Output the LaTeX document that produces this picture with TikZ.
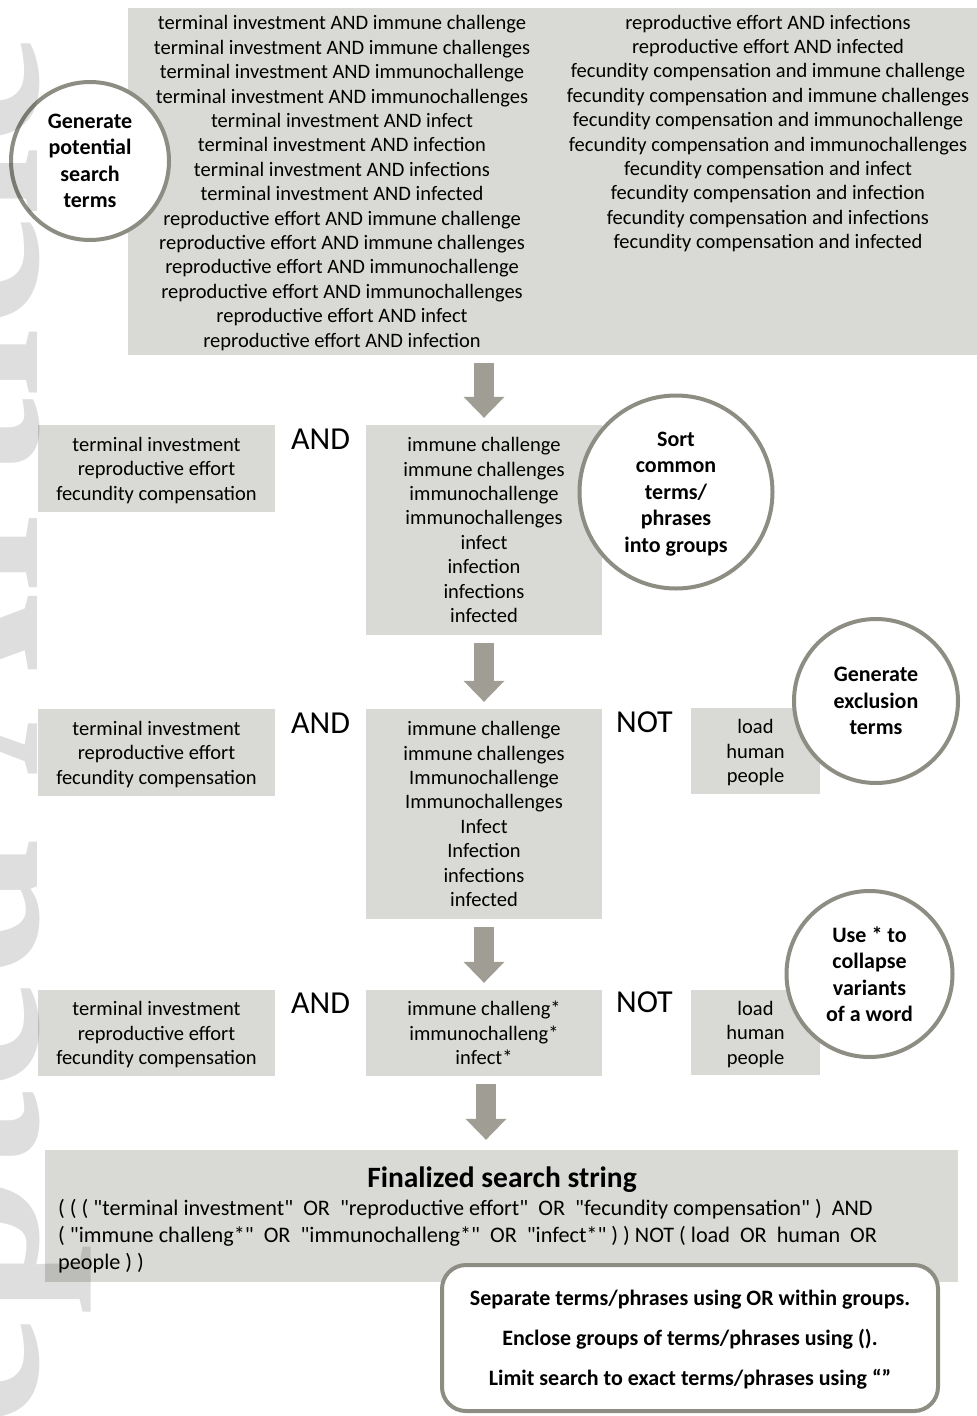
\documentclass[tikz,border=0pt]{standalone}
\usepackage{fontspec}
\setmainfont{Carlito}
\newfontfamily\stringfam{Carlito}
\newfontfamily\markfont{Liberation Serif}
\usepackage{tikz}
\usetikzlibrary{arrows.meta, positioning, calc}
\usepackage{xcolor}
\definecolor{boxgray}{RGB}{217,217,213}
\definecolor{ringgray}{RGB}{142,141,131}
\definecolor{arrowgray}{RGB}{160,158,148}
\newcommand{\bodyfont}{\fontsize{20.5}{24.4}\selectfont}
\newcommand{\ringfont}{\fontsize{22}{26.5}\selectfont\bfseries}
\newcommand{\opfont}{\fontsize{32}{36}\selectfont}
\newcommand{\stringfont}{\stringfam\fontsize{22.2}{27}\selectfont}

\begin{document}
\begin{tikzpicture}[
    x=1pt, y=-1pt,
    box/.style={fill=boxgray, inner sep=0pt, align=center, text depth=0pt, font=\bodyfont},
    ring/.style={circle, draw=ringgray, line width=4pt, fill=white, text depth=0pt,
                 inner sep=0pt, align=center, font=\ringfont},
    oplabel/.style={font=\opfont, inner sep=0pt},
    blockarr/.style={arrowgray, line width=20pt,
                     -{Triangle[width=41pt, length=21pt, line width=0pt]},
                     shorten <=8pt, shorten >=7pt},
]
  \useasboundingbox (0,0) rectangle (977,1416);

  % all combinations
  \node[box, minimum width=849pt, minimum height=347pt] (terms) at (552.5,181.5) {};
  \node[font=\bodyfont, align=center, inner sep=0pt] (termsL) at (342,183) {%
    terminal investment AND immune challenge\\
    terminal investment AND immune challenges\\
    terminal investment AND immunochallenge\\
    terminal investment AND immunochallenges\\
    terminal investment AND infect\\
    terminal investment AND infection\\
    terminal investment AND infections\\
    terminal investment AND infected\\
    reproductive effort AND immune challenge\\
    reproductive effort AND immune challenges\\
    reproductive effort AND immunochallenge\\
    reproductive effort AND immunochallenges\\
    reproductive effort AND infect\\
    reproductive effort AND infection};
  \node[font=\bodyfont, align=center, inner sep=0pt] (termsR) at (768,133.5) {%
    reproductive effort AND infections\\
    reproductive effort AND infected\\
    fecundity compensation and immune challenge\\
    fecundity compensation and immune challenges\\
    fecundity compensation and immunochallenge\\
    fecundity compensation and immunochallenges\\
    fecundity compensation and infect\\
    fecundity compensation and infection\\
    fecundity compensation and infections\\
    fecundity compensation and infected};
  \node[ring, minimum size=158pt] (gen) at (90,161) {Generate\\potential\\search\\terms};

  % grouped terms
  \node[box, minimum width=237pt, minimum height=87pt] (traitA) at (156.5,468.5)
    {terminal investment\\reproductive effort\\fecundity compensation};
  \node[box, minimum width=236pt, minimum height=210pt] (immuneA) at (484,530)
    {immune challenge\\immune challenges\\immunochallenge\\immunochallenges\\infect\\infection\\infections\\infected};
  \node[oplabel] (andA) at ($(traitA.north east)!.5!(immuneA.north west)+(0,14)$) {AND};
  \node[ring, minimum size=193pt] (sort) at (676,492) {Sort\\common\\terms/\\phrases\\into groups};

  % exclusion terms
  \node[box, minimum width=237pt, minimum height=87pt] (traitB) at (156.5,752.5)
    {terminal investment\\reproductive effort\\fecundity compensation};
  \node[box, minimum width=236pt, minimum height=210pt] (immuneB) at (484,814)
    {immune challenge\\immune challenges\\Immunochallenge\\Immunochallenges\\Infect\\Infection\\infections\\infected};
  \node[oplabel] (andB) at ($(traitB.north east)!.5!(immuneB.north west)+(0,14)$) {AND};
  \node[box, minimum width=129pt, minimum height=86pt] (exclB) at (755.5,751) {load\\human\\people};
  \node[oplabel] (notB) at ($(immuneB.north east)!.5!(exclB.north west)+(-2,14)$) {NOT};
  \node[ring, minimum size=164pt] (excl) at (876,701) {Generate\\exclusion\\terms};

  % truncated terms
  \node[box, minimum width=237pt, minimum height=86pt] (traitC) at (156.5,1033)
    {terminal investment\\reproductive effort\\fecundity compensation};
  \node[box, minimum width=236pt, minimum height=86pt] (immuneC) at (484,1033)
    {immune challeng*\\immunochalleng*\\infect*};
  \node[oplabel] (andC) at ($(traitC.north east)!.5!(immuneC.north west)+(0,13)$) {AND};
  \node[box, minimum width=129pt, minimum height=85pt] (exclC) at (755.5,1032.5) {load\\human\\people};
  \node[oplabel] (notC) at ($(immuneC.north east)!.5!(exclC.north west)+(-2,12)$) {NOT};
  \node[ring, minimum size=166pt] (star) at (869.5,974) {Use * to\\collapse\\variants\\of a word};

  % final string
  \node[box, minimum width=913pt, minimum height=132pt] (final) at (501.5,1216) {};
  \node[font=\fontsize{29.5}{32}\selectfont\bfseries, inner sep=0pt] (finaltitle) at (502,1180) {Finalized search string};
  \node[font=\stringfont, align=left, anchor=west, inner sep=0pt] (finalstring) at (58,1236) {%
    ( ( ( "terminal investment"~~OR~~"reproductive effort"~~OR~~"fecundity compensation" )~~AND\\
    ( "immune challeng*"~~OR~~"immunochalleng*"~~OR~~"infect*" ) ) NOT ( load~~OR~~human~~OR\\
    people ) )};
  \node[draw=ringgray, line width=4pt, fill=white, rounded corners=24pt, inner sep=0pt,
        minimum width=496pt, minimum height=146pt, align=center, text depth=0pt,
        font=\fontsize{22}{40}\selectfont\bfseries] (rules) at (690,1338) {%
    Separate terms/phrases using OR within groups.\\
    Enclose groups of terms/phrases using ().\\
    Limit search to exact terms/phrases using “”};

  % arrows between stages
  \draw[blockarr] (terms.south -| immuneA.north) -- (immuneA.north);
  \draw[blockarr] (immuneA.south) -- (immuneB.north);
  \draw[blockarr] (immuneB.south) -- (immuneC.north);
  \draw[blockarr, shorten >=10pt] ([xshift=2pt]immuneC.south) -- ([xshift=2pt]immuneC.south |- final.north);

  % watermark
  \begin{scope}
    \clip (0,0) rectangle (977,1416);
    \node[rotate=90, anchor=base west, inner sep=0pt, text=black, text opacity=0.13,
          font=\markfont\bfseries\fontsize{252}{252}\selectfont] (mark) at (37,1833) {Accepted Article};
  \end{scope}
\end{tikzpicture}
\end{document}
